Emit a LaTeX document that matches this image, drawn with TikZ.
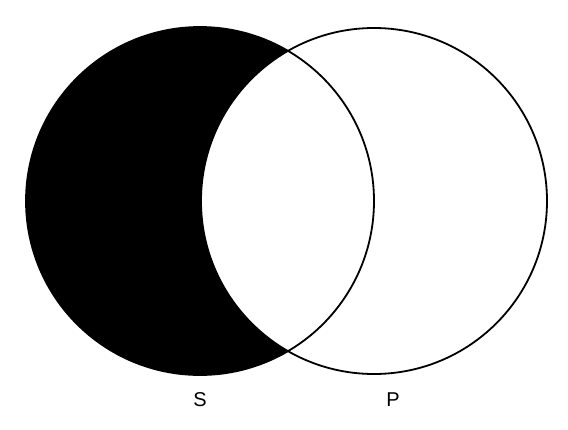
\documentclass[tikz,border=0pt]{standalone}
\usepackage{fontspec}
\setmainfont{Liberation Sans}
\begin{document}
\begin{tikzpicture}[x=1pt,y=-1pt,
  outline/.style={draw=black,line width=1.8pt},
  lbl/.style={font=\fontsize{20}{24}\selectfont,inner sep=0pt,anchor=base}]
\useasboundingbox (0,0) rectangle (568,429);
\coordinate (cs) at (200,201);
\coordinate (cp) at (374,201);
% black part of S
\fill[black] (cs) circle[radius=174pt];
\begin{scope}
  \clip (cp) circle[radius=173pt];
  \fill[white] (cs) circle[radius=174pt];
\end{scope}
\draw[outline] (cs) circle[radius=174pt];
\draw[outline] (cp) circle[radius=173pt];
\node[lbl] (S) at (200,406) {S};
\node[lbl] (P) at (393,406) {P};
\end{tikzpicture}
\end{document}
